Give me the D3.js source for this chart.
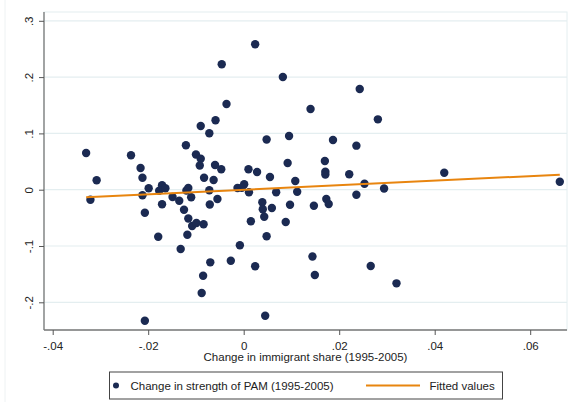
<!DOCTYPE html>
<html>
<head>
<meta charset="utf-8">
<script src="https://cdn.jsdelivr.net/npm/d3@7"></script>
<style>
  html, body { margin: 0; padding: 0; background: #fff; }
  svg { display: block; font-family: "Liberation Sans", Arial, sans-serif; }
</style>
</head>
<body>
<div id="chart"></div>
<script>
// change in immigrant share (1995-2005)
const immShare = [
  -0.0330, -0.0321, -0.0308, -0.0236, -0.0216, -0.0212, -0.0199, -0.0212, -0.0171, -0.0177,
  -0.0164, -0.0207, -0.0171, -0.0179, -0.0149, -0.0135, -0.0125, -0.0116, -0.0118, -0.0108,
  -0.0099, -0.0084, -0.0132, -0.0121, -0.0120, -0.0116, -0.0110, -0.0100, -0.0090, -0.0092,
  -0.0090, -0.0083, -0.0072, -0.0072, -0.0063, -0.0060, -0.0059, -0.0055, -0.0071, -0.0047,
  -0.0046, -0.0036, -0.0070, -0.0085, -0.0088, -0.0027, -0.0008, -0.0013, 0.0001, -0.0004,
  0.0011, 0.0010, 0.0024, 0.0028, 0.0015, 0.0024, 0.0039, 0.0040, 0.0043, 0.0048,
  0.0048, 0.0055, 0.0059, 0.0068, 0.0082, 0.0095, 0.0092, 0.0108, 0.0112, 0.0088,
  0.0097, 0.0045, -0.0207, 0.0140, 0.0170, 0.0171, 0.0171, 0.0173, 0.0178, 0.0147,
  0.0144, 0.0149, 0.0187, 0.0236, 0.0221, 0.0253, 0.0236, 0.0294, 0.0243, 0.0281,
  0.0266, 0.0320, 0.0420, 0.0662
];
// change in strength of PAM (1995-2005)
const pamChange = [
  0.0652, -0.0178, 0.0167, 0.0611, 0.0385, 0.0213, 0.0025, -0.0098, 0.0080, -0.0018,
  0.0025, -0.0409, -0.0258, -0.0835, -0.0130, -0.0195, -0.0355, -0.0512, -0.0799, -0.0645,
  -0.0591, -0.0615, -0.1053, 0.0789, -0.0014, 0.0030, -0.0133, 0.0625, 0.0551, 0.0430,
  0.1131, 0.0213, 0.1002, -0.0011, 0.0172, 0.0439, 0.1234, -0.0165, -0.0263, 0.0362,
  0.2227, 0.1522, -0.1290, -0.1529, -0.1835, -0.1261, -0.0986, 0.0030, 0.0098, 0.0035,
  -0.0046, 0.0362, 0.2583, 0.0314, -0.0561, -0.1361, -0.0224, -0.0348, -0.0480, -0.0828,
  0.0892, 0.0226, -0.0325, -0.0046, 0.2002, 0.0954, 0.0474, 0.0155, -0.0037, -0.0574,
  -0.0266, -0.2238, -0.2327, 0.1433, 0.0510, 0.0320, 0.0270, -0.0165, -0.0254, -0.0284,
  -0.1187, -0.1515, 0.0883, 0.0782, 0.0274, 0.0107, -0.0089, 0.0021, 0.1789, 0.1250,
  -0.1355, -0.1663, 0.0302, 0.0142
];
// fitted values at the two ends of the data range
const fitX = [-0.0330, 0.0662];
const fitY = [-0.0135, 0.0266];

const xTicks = [-0.04, -0.02, 0, 0.02, 0.04, 0.06];
const yTicks = [-0.2, -0.1, 0, 0.1, 0.2, 0.3];
const xTitle = "Change in immigrant share (1995-2005)";
const legendLabels = ["Change in strength of PAM (1995-2005)", "Fitted values"];

const width = 568, height = 402;
const plot = {left: 44, top: 12, right: 567, bottom: 330};
const navy = "#1b2a52", orange = "#e8850f", grid = "#e4eef0";

// stata style: no leading zero
const fmt = v => {
  if (v === 0) return "0";
  let s = String(+v.toFixed(3));
  return s.replace(/^(-?)0\./, "$1.");
};

const svg = d3.select("#chart").append("svg")
  .attr("width", width)
  .attr("height", height);

const x = d3.scaleLinear().domain([-0.04, 0.06]).range([52.7, 530.2]);
const y = d3.scaleLinear().domain([-0.2, 0.3]).range([302.3, 20.8]);

// faint frame bits
svg.append("line")
  .attr("x1", 5).attr("x2", 5).attr("y1", 0).attr("y2", height)
  .attr("stroke", "#eef2f3");
svg.append("rect")
  .attr("x", plot.left).attr("y", plot.top)
  .attr("width", plot.right - plot.left).attr("height", plot.bottom - plot.top)
  .attr("fill", "#fff").attr("stroke", grid);

// gridlines
svg.append("g").selectAll("line")
  .data(yTicks).enter().append("line")
  .attr("x1", plot.left).attr("x2", plot.right)
  .attr("y1", d => y(d)).attr("y2", d => y(d))
  .attr("stroke", grid).attr("stroke-width", 1.2);

// y axis
const yAxis = svg.append("g")
  .attr("transform", `translate(${plot.left},0)`)
  .call(d3.axisLeft(y).tickValues(yTicks).tickFormat(fmt).tickSize(5).tickSizeOuter(0));
yAxis.select(".domain").attr("d", `M0,${plot.top}V${plot.bottom}`).attr("stroke", "#777").attr("stroke-width", 1.3);
yAxis.selectAll(".tick line").attr("stroke", "#555");
yAxis.selectAll(".tick text")
  .attr("x", null).attr("dy", null)
  .attr("transform", "translate(-11,0) rotate(-90)")
  .attr("text-anchor", "middle")
  .attr("fill", "#222")
  .style("font-size", "11.5px");

// x axis
const xAxis = svg.append("g")
  .attr("transform", `translate(0,${plot.bottom})`)
  .call(d3.axisBottom(x).tickValues(xTicks).tickFormat(fmt).tickSize(5).tickSizeOuter(0));
xAxis.select(".domain").attr("d", `M${plot.left},0H${plot.right}`).attr("stroke", "#777").attr("stroke-width", 1.3);
xAxis.selectAll(".tick line").attr("stroke", "#555");
xAxis.selectAll(".tick text")
  .attr("y", 20).attr("dy", null)
  .attr("fill", "#222")
  .style("font-size", "11.5px");

svg.append("text")
  .attr("x", (plot.left + plot.right) / 2)
  .attr("y", 361)
  .attr("text-anchor", "middle")
  .attr("fill", "#222")
  .style("font-size", "11.5px")
  .text(xTitle);

// points
const pts = immShare.map((v, i) => ({x: v, y: pamChange[i]}));
svg.append("g").selectAll("circle")
  .data(pts).enter().append("circle")
  .attr("cx", d => x(d.x))
  .attr("cy", d => y(d.y))
  .attr("r", 4.2)
  .attr("fill", navy);

// fitted line
svg.append("path")
  .datum(fitX.map((v, i) => [v, fitY[i]]))
  .attr("d", d3.line().x(d => x(d[0])).y(d => y(d[1])))
  .attr("fill", "none")
  .attr("stroke", orange)
  .attr("stroke-width", 2);

// legend
const lg = svg.append("g");
lg.append("rect")
  .attr("x", 109.5).attr("y", 372)
  .attr("width", 393).attr("height", 27)
  .attr("fill", "#fff").attr("stroke", "#444").attr("stroke-width", 1);
lg.append("circle")
  .attr("cx", 116).attr("cy", 385.5).attr("r", 3)
  .attr("fill", navy);
lg.append("text")
  .attr("x", 130.5).attr("y", 389.5)
  .attr("fill", "#222").style("font-size", "11.5px")
  .text(legendLabels[0]);
lg.append("line")
  .attr("x1", 366).attr("x2", 420).attr("y1", 385.5).attr("y2", 385.5)
  .attr("stroke", orange).attr("stroke-width", 2);
lg.append("text")
  .attr("x", 429.5).attr("y", 389.5)
  .attr("fill", "#222").style("font-size", "11.5px")
  .text(legendLabels[1]);
</script>
</body>
</html>
